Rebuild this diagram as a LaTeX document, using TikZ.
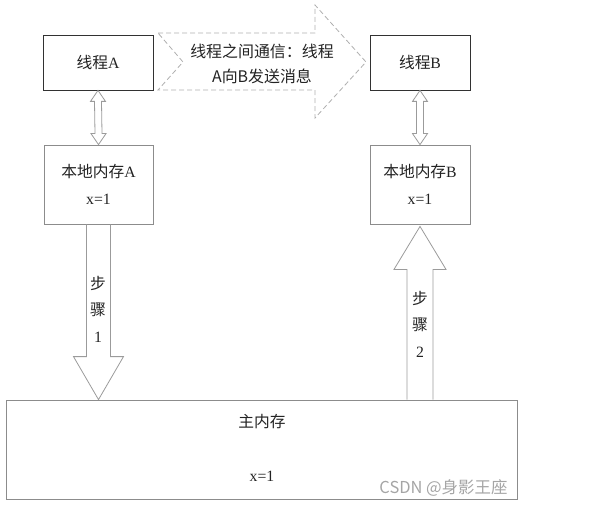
\documentclass[tikz,border=0pt]{standalone}
\usepackage{fontspec}
\setmainfont{Liberation Serif}
\newfontfamily\hanzi{Noto Sans CJK SC}
\usetikzlibrary{calc}
\definecolor{rahmen}{RGB}{50,50,50}
\definecolor{grau}{RGB}{140,140,140}
\definecolor{pfeil}{RGB}{155,155,155}
\definecolor{strich}{RGB}{175,175,175}
\definecolor{schrift}{RGB}{35,35,35}
\definecolor{wasserzeichen}{RGB}{165,165,165}

\begin{document}
\begin{tikzpicture}[x=1bp, y=-1bp, text=schrift, font=\fontsize{15.8}{27}\selectfont,
    thread/.style={draw=rahmen, line width=0.8bp, minimum width=110bp, minimum height=55bp, inner sep=0pt},
    memory/.style={draw=grau, line width=0.8bp, minimum width=109bp, minimum height=79bp, align=center, inner sep=0pt},
    blockpfeil/.style={draw=pfeil, line width=0.8bp, line join=miter}]

    \useasboundingbox (0,0) rectangle (615,507);

    % threads and local memories
    \node[thread] (threadA) at (98,62.5) {{\hanzi 线程}A};
    \node[thread, minimum width=100bp] (threadB) at (420,62.5) {{\hanzi 线程}B};
    \node[memory] (localA) at (98.5,184.5) {{\hanzi 本地内存}A\\x=1};
    \node[memory, minimum width=100bp] (localB) at (420,184.5) {{\hanzi 本地内存}B\\x=1};

    % main memory
    \node[draw=grau, line width=0.8bp, minimum width=511bp, minimum height=99bp] (mainMem) at (261.5,449.5) {};
    \node (mainTitle) at (262,422) {\hanzi 主内存};
    \node (mainValue) at (262,476) {x=1};

    % message from A to B
    \draw[strich, line width=0.8bp, dash pattern=on 5bp off 3bp] (158,33) -- (315,33) -- (315,5) -- (366,62) -- (315,118) -- (315,90) -- (158,90) -- (183,62) -- cycle;
    \node[align=center, font=\hanzi\fontsize{16}{25}\selectfont] (message) at (262,64) {线程之间通信：线程\\A向B发送消息};

    % double arrows thread <-> local memory
    \draw[blockpfeil] (threadA.south) -- ++(7.5,11) -- ++(-4,0) -- ($(localA.north)+(3.5,-11)$) -- ++(4,0) -- (localA.north) -- ++(-7.5,-11) -- ++(4,0) -- ($(threadA.south)+(-3.5,11)$) -- ++(-4,0) -- cycle;
    \draw[blockpfeil] (threadB.south) -- ++(7.5,11) -- ++(-4,0) -- ($(localB.north)+(3.5,-11)$) -- ++(4,0) -- (localB.north) -- ++(-7.5,-11) -- ++(4,0) -- ($(threadB.south)+(-3.5,11)$) -- ++(-4,0) -- cycle;

    % step 1: local memory A -> main memory
    \coordinate (stepOneTip) at (localA.south |- mainMem.north);
    \draw[blockpfeil] ($(localA.south)+(-12,0)$) -- ($(stepOneTip)+(-12,-43)$) -- ++(-13,0) -- (stepOneTip) -- ++(25,-43) -- ++(-13,0) -- ($(localA.south)+(12,0)$);
    \node[align=center, font=\fontsize{15.8}{26.5}\selectfont] (stepOne) at (98,309) {{\hanzi 步}\\{\hanzi 骤}\\1};

    % step 2: main memory -> local memory B
    \coordinate (stepTwoBase) at (localB.south |- mainMem.north);
    \draw[blockpfeil] ($(stepTwoBase)+(-13,0)$) -- ($(localB.south)+(-13,45)$) -- ++(-13,0) -- ($(localB.south)+(0,2)$) -- ++(26,43) -- ++(-13,0) -- ($(stepTwoBase)+(13,0)$);
    \node[align=center, font=\fontsize{15.8}{26.5}\selectfont] (stepTwo) at (420,324) {{\hanzi 步}\\{\hanzi 骤}\\2};

    \node[anchor=east, text=wasserzeichen, font=\hanzi\fontsize{16.5}{18}\selectfont] (watermark) at (511,488) {CSDN @身影王座};

\end{tikzpicture}
\end{document}
